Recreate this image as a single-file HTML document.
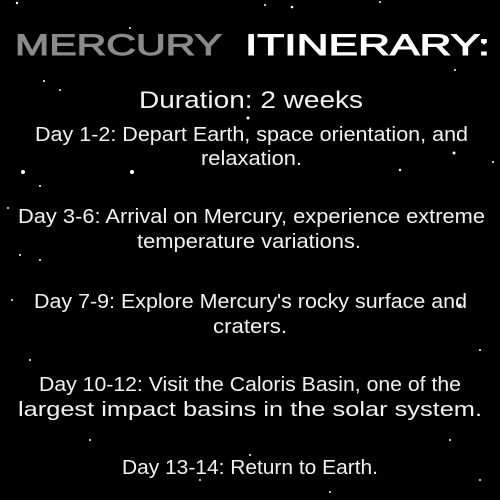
<!DOCTYPE html>
<html><head><meta charset="utf-8"><style>
html,body{margin:0;padding:0;background:#000;}
svg{display:block}
text{font-family:"Liberation Sans",sans-serif;fill:#f2f2f2;}
</style></head><body>
<svg width="500" height="500" viewBox="0 0 500 500" xmlns="http://www.w3.org/2000/svg">
<rect width="500" height="500" fill="#000"/>
<g fill="#fff">
<circle cx="17" cy="3" r="1.2"/><circle cx="130" cy="28" r="1"/><circle cx="265" cy="5" r="1"/><circle cx="292" cy="7" r="1.3"/><circle cx="380" cy="2" r="1"/><circle cx="484" cy="43" r="1.5"/><circle cx="455" cy="70" r="1"/><circle cx="60" cy="90" r="1"/><circle cx="44" cy="81" r="1"/><circle cx="23" cy="172" r="2"/><circle cx="132" cy="172" r="2"/><circle cx="40" cy="186" r="1"/><circle cx="400" cy="170" r="1.2"/><circle cx="454" cy="153" r="1.5"/><circle cx="493" cy="162" r="1"/><circle cx="470" cy="218" r="1"/><circle cx="8" cy="208" r="1"/><circle cx="40" cy="260" r="1"/><circle cx="460" cy="305" r="1.5"/><circle cx="12" cy="300" r="1"/><circle cx="480" cy="350" r="1"/><circle cx="30" cy="360" r="1"/><circle cx="90" cy="440" r="1"/><circle cx="450" cy="440" r="1"/><circle cx="200" cy="480" r="1"/><circle cx="330" cy="492" r="1"/><circle cx="248" cy="118" r="1.5"/><circle cx="20" cy="255" r="1"/><circle cx="250" cy="455" r="1"/><circle cx="480" cy="480" r="1"/>
</g>
<text x="15" y="55" textLength="207" lengthAdjust="spacingAndGlyphs" font-size="30" style="fill:#8a8a8a;stroke:#8a8a8a;stroke-width:1">MERCURY</text>
<text x="245" y="55" textLength="245" lengthAdjust="spacingAndGlyphs" font-size="30" style="fill:#fff;stroke:#fff;stroke-width:1">ITINERARY:</text>
<text x="139" y="108" textLength="224" lengthAdjust="spacingAndGlyphs" font-size="24">Duration: 2 weeks</text>
<text x="35" y="141" textLength="433" lengthAdjust="spacingAndGlyphs" font-size="20">Day 1-2: Depart Earth, space orientation, and</text>
<text x="201" y="165" textLength="101" lengthAdjust="spacingAndGlyphs" font-size="20">relaxation.</text>
<text x="18" y="223" textLength="467" lengthAdjust="spacingAndGlyphs" font-size="20">Day 3-6: Arrival on Mercury, experience extreme</text>
<text x="137" y="248" textLength="224" lengthAdjust="spacingAndGlyphs" font-size="20">temperature variations.</text>
<text x="34" y="308" textLength="433" lengthAdjust="spacingAndGlyphs" font-size="20">Day 7-9: Explore Mercury's rocky surface and</text>
<text x="213" y="333" textLength="74" lengthAdjust="spacingAndGlyphs" font-size="20">craters.</text>
<text x="39" y="391" textLength="422" lengthAdjust="spacingAndGlyphs" font-size="20">Day 10-12: Visit the Caloris Basin, one of the</text>
<text x="18" y="416" textLength="464" lengthAdjust="spacingAndGlyphs" font-size="20">largest impact basins in the solar system.</text>
<text x="122" y="474" textLength="256" lengthAdjust="spacingAndGlyphs" font-size="20">Day 13-14: Return to Earth.</text>
</svg>
</body></html>
